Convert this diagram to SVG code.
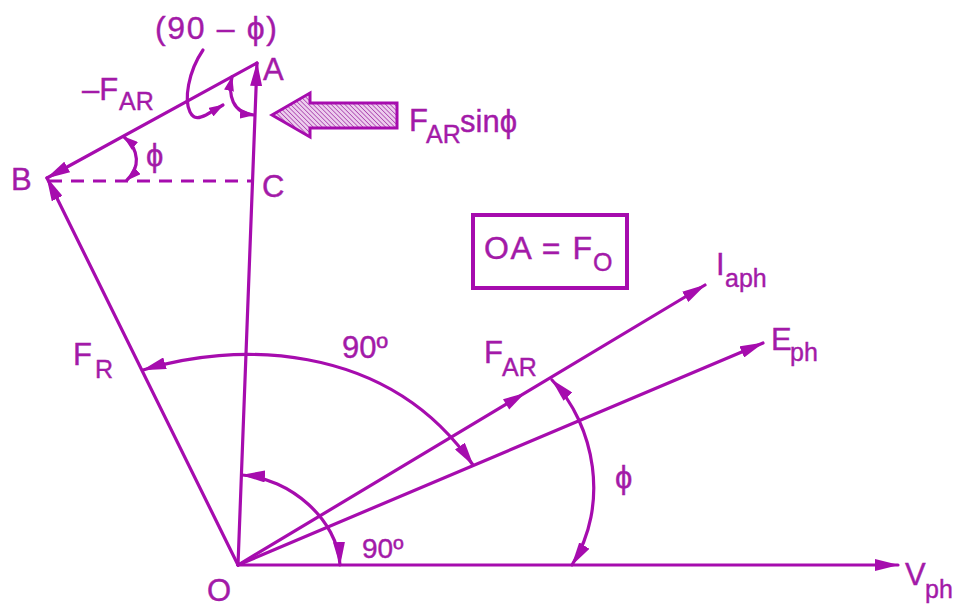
<svg xmlns="http://www.w3.org/2000/svg" width="974" height="607" viewBox="0 0 974 607">
<style>
.ln{stroke:#A60CAE;stroke-width:3.2;fill:none;stroke-linecap:round}
.dash{stroke:#A60CAE;stroke-width:3.2;fill:none;stroke-dasharray:13 9}
.t{fill:#A31AA8;stroke:#A31AA8;stroke-width:0.4;font-family:"Liberation Sans","DejaVu Sans",sans-serif;font-size:31px}
.s{fill:#A31AA8;stroke:#A31AA8;stroke-width:0.4;font-family:"Liberation Sans","DejaVu Sans",sans-serif;font-size:25px}
.ah{fill:#A60CAE}
</style>
<defs>
<marker id="arr" viewBox="0 0 24 12" refX="23" refY="6" markerWidth="24" markerHeight="12" markerUnits="userSpaceOnUse" orient="auto-start-reverse">
<path d="M0,0 L24,6 L0,12 z" fill="#A60CAE"/>
</marker>
<marker id="arrs" viewBox="0 0 15 10" refX="14" refY="5" markerWidth="15" markerHeight="10" markerUnits="userSpaceOnUse" orient="auto-start-reverse">
<path d="M0,0 L15,5 L0,10 z" fill="#A60CAE"/>
</marker>
<pattern id="hatch" patternUnits="userSpaceOnUse" width="3.2" height="3.2" patternTransform="rotate(-45)">
<rect width="3.2" height="3.2" fill="#EDCDEE"/>
<line x1="0" y1="0" x2="0" y2="3.2" stroke="#A83FAC" stroke-width="1.5"/>
</pattern>
</defs>
<rect width="974" height="607" fill="#FFFFFF"/>

<g id="connectors">
<path id="v-ph" class="ln" d="M238,565 L898,565" marker-end="url(#arr)"/>
<path id="e-ph" class="ln" d="M238,565 L763,343" marker-end="url(#arr)"/>
<path id="i-aph" class="ln" d="M238,565 L705,285" marker-end="url(#arr)"/>
<polygon id="f-ar-head" class="ah" points="525,393 509.2,409.5 503,399.2"/>
<path id="oa" class="ln" d="M238,565 L257,63" marker-end="url(#arr)"/>
<path id="ob-fr" class="ln" d="M238,565 L47,178" marker-end="url(#arr)"/>
<path id="ab" class="ln" d="M257,63 L47,178" marker-end="url(#arr)"/>
<path id="bc" class="dash" d="M49,181 L253,181"/>
<path id="arc-90-top" class="ln" d="M143,370 C 230,343 385,338 473,465" marker-start="url(#arr)" marker-end="url(#arr)"/>
<path id="arc-90-low" class="ln" d="M242,475 C 290,478 338,520 340,565" marker-start="url(#arr)" marker-end="url(#arr)"/>
<path id="arc-phi" class="ln" d="M552,380 C 595,425 610,505 572,565" marker-start="url(#arr)" marker-end="url(#arr)"/>
<path id="arc-phi-b" class="ln" d="M124,137 C 140,150 140,168 127,180" marker-start="url(#arrs)" marker-end="url(#arrs)"/>
<path id="arc-a" class="ln" d="M232,77 C 228,95 232,113 254,115" marker-start="url(#arrs)" marker-end="url(#arrs)"/>
<path id="leader" class="ln" d="M203,50 C 188,72 184,100 190,112 C 194,120 200,118 206,115 L223,105" marker-end="url(#arrs)"/>
</g>

<g id="far-sin-arrow">
<polygon points="272,115 310,93 310,103 397,103 397,128 310,128 310,137" fill="url(#hatch)" stroke="#A60CAE" stroke-width="3" stroke-linejoin="miter"/>
<text class="t" x="409" y="131">F</text>
<text class="s" x="426" y="143">AR</text>
<text class="t" x="460" y="132">sinϕ</text>
</g>

<g id="label-90-phi">
<text class="t" x="155" y="39" style="font-size:32px" textLength="122" lengthAdjust="spacing">(90 – ϕ)</text>
</g>
<g id="node-A"><text class="t" x="263" y="80">A</text></g>
<g id="node-B"><text class="t" x="11" y="190">B</text></g>
<g id="node-C"><text class="t" x="262" y="197">C</text></g>
<g id="node-O"><text class="t" x="207" y="601">O</text></g>

<g id="label-neg-far">
<text class="t" x="82" y="100">–F</text>
<text class="s" x="119" y="110">AR</text>
</g>
<g id="label-phi-b"><text class="t" x="146" y="166">ϕ</text></g>

<g id="box-oa">
<rect x="473" y="215" width="154" height="73" fill="none" stroke="#A60CAE" stroke-width="4"/>
<text class="t" x="484" y="259" style="font-size:32px" textLength="108" lengthAdjust="spacing">OA = F</text>
<text class="s" x="593" y="271">O</text>
</g>

<g id="label-iaph">
<text class="t" x="716" y="275">I</text>
<text class="s" x="725" y="287">aph</text>
</g>
<g id="label-eph">
<text class="t" x="771" y="350">E</text>
<text class="s" x="790" y="361">ph</text>
</g>
<g id="label-vph">
<text class="t" x="905" y="585">V</text>
<text class="s" x="925" y="598">ph</text>
</g>
<g id="label-fr">
<text class="t" x="73" y="365">F</text>
<text class="s" x="95" y="378">R</text>
</g>
<g id="label-far">
<text class="t" x="484" y="363">F</text>
<text class="s" x="502" y="376">AR</text>
</g>
<g id="label-90-top"><text class="t" x="342" y="358">90º</text></g>
<g id="label-90-low"><text class="t" x="362" y="558" style="font-size:28px">90º</text></g>
<g id="label-phi-r"><text class="t" x="615" y="488">ϕ</text></g>
</svg>
